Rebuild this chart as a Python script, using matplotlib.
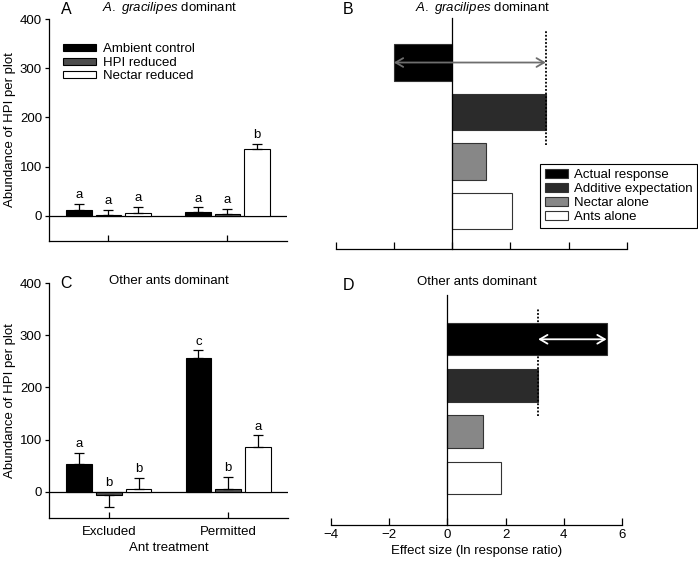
import numpy as np
import matplotlib
matplotlib.use('Agg')
import matplotlib.pyplot as plt
from matplotlib.patches import Patch

plt.rcParams['font.family'] = ['Liberation Sans', 'DejaVu Sans']
plt.rcParams['font.size'] = 9
plt.rcParams['mathtext.fontset'] = 'custom'
plt.rcParams['mathtext.it'] = 'Liberation Sans:italic'
plt.rcParams['mathtext.rm'] = 'Liberation Sans'

# Данные: численность HPI (панели A и C)
groups = ['Excluded', 'Permitted']
series = ['Ambient control', 'HPI reduced', 'Nectar reduced']
colors = ['black', '#4d4d4d', 'white']

ambient_A = [13, 9]
ambient_A_err = [11, 8.5]
hpi_A = [2, 4]
hpi_A_err = [10, 11]
nectar_A = [7, 135]
nectar_A_err = [12, 11]
letters_A = [['a', 'a'], ['a', 'a'], ['a', 'b']]

ambient_C = [53, 256]
ambient_C_err = [21, 15]
hpi_C = [-6, 5]
hpi_C_err = [23, 23]
nectar_C = [6, 86]
nectar_C_err = [20, 22]
letters_C = [['a', 'c'], ['b', 'b'], ['b', 'a']]

# Данные: размер эффекта (панели B и D)
effects = ['Actual response', 'Additive expectation', 'Nectar alone', 'Ants alone']
effect_colors = ['black', '#2b2b2b', '#878787', 'white']
effect_B = [-2.0, 3.22, 1.15, 2.05]
effect_D = [5.47, 3.12, 1.22, 1.85]

W, H = 698, 562
fig = plt.figure(figsize=(W / 100, H / 100), dpi=100)


def px_axes(x0, y0, x1, y1):
    # прямоугольник осей в пикселях (сверху вниз)
    return fig.add_axes([x0 / W, 1 - y1 / H, (x1 - x0) / W, (y1 - y0) / H])


def abundance_panel(ax, vals, errs, letters, show_labels):
    x = np.arange(len(groups))
    offs = [-0.25, 0, 0.25]
    for i in range(3):
        v = np.array(vals[i])
        e = np.array(errs[i])
        ax.bar(x + offs[i], v, width=0.215, color=colors[i], edgecolor='black', linewidth=0.8, zorder=2)
        lower = np.where(v < 0, e, 0)
        upper = np.where(v < 0, 0, e)
        ax.errorbar(x + offs[i], v, yerr=[lower, upper], fmt='none', ecolor='black',
                    elinewidth=0.9, capsize=3.5, capthick=0.9, zorder=3)
        for j in range(len(groups)):
            top = v[j] + e[j] if v[j] > 0 else 0
            ax.annotate(letters[i][j], (x[j] + offs[i], top), xytext=(0, 2),
                        textcoords='offset points', ha='center', va='bottom', fontsize=9.5)
    ax.axhline(0, color='black', lw=0.9, zorder=1)
    ax.set_xlim(-0.5, 1.5)
    ax.set_ylim(-50, 400)
    ax.set_yticks([0, 100, 200, 300, 400])
    ax.set_xticks(x)
    if show_labels:
        ax.set_xticklabels(groups, fontsize=9.5)
        ax.set_xlabel('Ant treatment', fontsize=9.5, labelpad=3)
    else:
        ax.set_xticklabels([])
    ax.tick_params(axis='x', direction='in', length=4, width=0.9, pad=6)
    ax.tick_params(axis='y', direction='out', length=3, width=0.9, labelsize=9.5, pad=2)
    ax.set_ylabel('Abundance of HPI per plot', fontsize=9.5, labelpad=3)
    for s in ['top', 'right']:
        ax.spines[s].set_visible(False)
    for s in ['left', 'bottom']:
        ax.spines[s].set_linewidth(0.9)


def effect_panel(ax, vals, arrow_color, show_labels, ylow, yhigh, bar_h):
    y = np.arange(len(effects))[::-1]
    ax.barh(y, vals, height=bar_h, color=effect_colors, edgecolor='#333333', linewidth=0.8, zorder=2)
    ax.vlines(vals[1], 1.33, 3.65, colors='black', linestyles=(0, (1, 1)), lw=1.3, zorder=3)
    ax.annotate('', xy=(vals[0], y[0]), xytext=(vals[1], y[0]),
                arrowprops=dict(arrowstyle='<->,head_length=0.6,head_width=0.35',
                                color=arrow_color, lw=1.3, shrinkA=0, shrinkB=0), zorder=4)
    ax.set_xlim(-4, 6)
    ax.set_ylim(ylow, yhigh)
    ax.set_xticks([-4, -2, 0, 2, 4, 6])
    ax.set_xticklabels(['\u22124', '\u22122', '0', '2', '4', '6'] if show_labels else [])
    ax.set_yticks([])
    ax.spines['left'].set_position(('data', 0))
    for s in ['top', 'right']:
        ax.spines[s].set_visible(False)
    for s in ['left', 'bottom']:
        ax.spines[s].set_linewidth(0.9)
    ax.tick_params(axis='x', direction='in', length=5, width=0.9, labelsize=9.5, pad=3)
    if show_labels:
        ax.set_xlabel('Effect size (ln response ratio)', fontsize=9.5, labelpad=3)


axA = px_axes(49, 19, 287, 240.6)
abundance_panel(axA, [ambient_A, hpi_A, nectar_A], [ambient_A_err, hpi_A_err, nectar_A_err], letters_A, False)
handles = [Patch(facecolor=c, edgecolor='black', linewidth=0.8) for c in colors]
axA.legend(handles, series, loc='upper left', bbox_to_anchor=(58 / W, 1 - 38 / H),
           bbox_transform=fig.transFigure, frameon=False, fontsize=9.5, handlelength=2.5,
           handleheight=0.45, handletextpad=0.5, labelspacing=0.12, borderaxespad=0)

axC = px_axes(49, 283.3, 288, 517.7)
abundance_panel(axC, [ambient_C, hpi_C, nectar_C], [ambient_C_err, hpi_C_err, nectar_C_err], letters_C, True)

axB = px_axes(335.7, 18, 626.7, 249)
effect_panel(axB, effect_B, '#6e6e6e', False, -0.77, 3.9, 0.74)
handles = [Patch(facecolor=c, edgecolor='#333333', linewidth=0.8) for c in effect_colors]
axB.legend(handles, effects, loc='upper right', bbox_to_anchor=(697 / W, 1 - 164 / H),
           bbox_transform=fig.transFigure, fancybox=False, edgecolor='black', fontsize=9.5,
           handlelength=1.8, handleheight=0.7, handletextpad=0.4, labelspacing=0.15,
           borderaxespad=0, borderpad=0.35, framealpha=1).get_frame().set_linewidth(0.8)

axD = px_axes(331, 295, 622, 524.7)
effect_panel(axD, effect_D, 'white', True, -1.02, 3.96, 0.70)

# Подписи панелей и заголовки
fig.text(61 / W, 1 - 10 / H, 'A', fontsize=11.5, ha='left', va='center')
fig.text(102 / W, 1 - 8 / H, r'$\it{A.\ gracilipes}$ dominant', fontsize=9.5, ha='left', va='center')
fig.text(60 / W, 1 - 283 / H, 'C', fontsize=11.5, ha='left', va='center')
fig.text(169 / W, 1 - 281 / H, 'Other ants dominant', fontsize=9.5, ha='center', va='center')
fig.text(343 / W, 1 - 9 / H, 'B', fontsize=11.5, ha='left', va='center')
fig.text(415 / W, 1 - 8 / H, r'$\it{A.\ gracilipes}$ dominant', fontsize=9.5, ha='left', va='center')
fig.text(343 / W, 1 - 285 / H, 'D', fontsize=11.5, ha='left', va='center')
fig.text(477 / W, 1 - 282 / H, 'Other ants dominant', fontsize=9.5, ha='center', va='center')

fig.savefig('out.png', dpi=100)
